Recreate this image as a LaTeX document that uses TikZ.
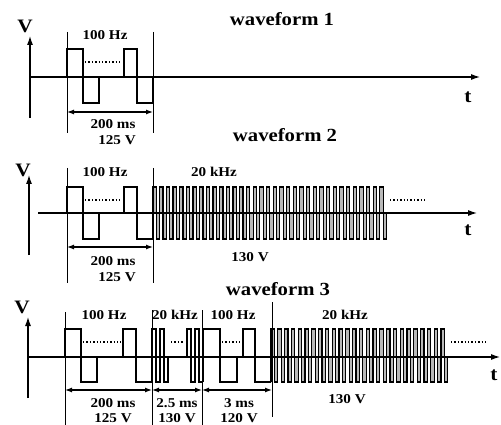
\documentclass[tikz,border=0pt]{standalone}
\usepackage{fontspec}
\setmainfont[FakeStretch=1.12]{Liberation Serif}
\usetikzlibrary{arrows.meta}

\begin{document}
\begin{tikzpicture}[x=1pt, y=-1pt, >=Latex, font=\bfseries,
    wave/.style={line width=1.7pt, line join=miter},
    burst/.style={line width=1.1pt, fill=gray!55},
    shortburst/.style={line width=1.3pt},
    axisline/.style={-{Latex[length=9pt, width=6pt]}, line width=1.1pt},
    tickline/.style={line width=0.8pt},
    dimarrow/.style={{Latex[length=7pt, width=5pt]}-{Latex[length=7pt, width=5pt]}, line width=1.2pt},
    dots/.style={dotted, line width=1.4pt},
    lbl/.style={font=\fontsize{13.5}{15}\bfseries\selectfont, anchor=base, inner sep=1pt},
    ttl/.style={font=\fontsize{18.5}{21}\bfseries\selectfont, anchor=base},
    axlbl/.style={font=\fontsize{19}{21}\bfseries\selectfont, anchor=base}]

  \useasboundingbox (0,0) rectangle (501,425);

  % ---------- waveform 1 ----------
  \begin{scope}[shift={(0,77)}]
    \node[ttl] (title1) at (282,-51) {waveform 1};
    \coordinate (o1) at (30,0);
    \coordinate (vtip1) at (30,-41);
    \coordinate (ttip1) at (480,0);
    \draw[axisline] (30,41) -- (vtip1);
    \draw[axisline] (o1) -- (ttip1);
    \node[axlbl] (v1) at (25,-44) {V};
    \node[axlbl] (t1) at (468,26) {t};

    \draw[wave] (67,0) -- (67,-28) -- (83,-28) -- (83,26) -- (99,26) -- (99,0);
    \draw[wave] (124,0) -- (124,-28) -- (137,-28) -- (137,26) -- (153,26) -- (153,0);
    \draw[dots] (85,-15) -- (122,-15);

    \draw[tickline] (67,-45) -- (67,56);
    \draw[tickline] (153,-45) -- (153,56);
    \coordinate (a1) at (67,35);
    \coordinate (b1) at (153,35);
    \draw[dimarrow] (a1) -- (b1);

    \node[lbl] (f1) at (105,-37) {100 Hz};
    \node[lbl] (d1) at (113,52) {200 ms};
    \node[lbl] (u1) at (117,68) {125 V};
  \end{scope}

  % ---------- waveform 2 ----------
  \begin{scope}[shift={(0,213)}]
    \node[ttl] (title2) at (285,-71) {waveform 2};
    \coordinate (o2) at (38,0);
    \coordinate (vtip2) at (29,-38);
    \coordinate (ttip2) at (477,0);
    \draw[axisline] (29,42) -- (vtip2);
    \draw[axisline] (o2) -- (ttip2);
    \node[axlbl] (v2) at (23,-36) {V};
    \node[axlbl] (t2) at (468,22) {t};

    \draw[wave] (67,0) -- (67,-26) -- (83,-26) -- (83,26) -- (99,26) -- (99,0);
    \draw[wave] (124,0) -- (124,-26) -- (137,-26) -- (137,26) -- (153,26);
    \draw[dots] (85,-13) -- (122,-13);

    % 20 kHz burst
    \filldraw[burst] (153,0) -- (153,26)
      \foreach \i in {1,...,35}{ -- ++(0,-52) -- ++(3.335,0) -- ++(0,52) -- ++(3.335,0)}
      -- ++(0,-26) -- cycle;
    \draw[dots] (390,-13) -- (427,-13);

    \draw[tickline] (67,-45) -- (67,70);
    \draw[tickline] (153,-45) -- (153,70);
    \coordinate (a2) at (67,34);
    \coordinate (b2) at (153,34);
    \draw[dimarrow] (a2) -- (b2);

    \node[lbl] (f2) at (105,-36) {100 Hz};
    \node[lbl] (g2) at (214,-36) {20 kHz};
    \node[lbl] (d2) at (113,52) {200 ms};
    \node[lbl] (u2) at (117,68) {125 V};
    \node[lbl] (w2) at (250,48) {130 V};
  \end{scope}

  % ---------- waveform 3 ----------
  \begin{scope}[shift={(0,357)}]
    \node[ttl] (title3) at (278,-62) {waveform 3};
    \coordinate (o3) at (28,0);
    \coordinate (vtip3) at (28,-40);
    \coordinate (ttip3) at (500,0);
    \draw[axisline] (28,41) -- (vtip3);
    \draw[axisline] (o3) -- (ttip3);
    \node[axlbl] (v3) at (22,-44) {V};
    \node[axlbl] (t3) at (494,23) {t};

    \draw[wave] (65,0) -- (65,-28) -- (81,-28) -- (81,25) -- (97,25) -- (97,0);
    \draw[wave] (123,0) -- (123,-28) -- (136,-28) -- (136,25) -- (152,25);
    \draw[dots] (83,-15) -- (121,-15);

    % short 20 kHz bursts
    \draw[shortburst] (152,25)
      \foreach \i in {1,2}{ -- ++(0,-53) -- ++(4,0) -- ++(0,53) -- ++(4,0)}
      -- ++(0,-25);
    \draw[dots] (171,-15) -- (184,-15);
    \draw[shortburst] (187,0) -- (187,-28) -- ++(4,0) -- ++(0,53) -- ++(4,0)
      -- ++(0,-53) -- ++(4,0) -- ++(0,53) -- ++(4,0);
    \draw[wave] (203,25) -- (203,-28) -- (220,-28) -- (220,25) -- (237,25) -- (237,0);
    \draw[wave] (243,0) -- (243,-28) -- (255,-28) -- (255,25) -- (271,25);
    \draw[dots] (222,-15) -- (241,-15);

    % long 20 kHz burst
    \filldraw[burst] (271,0) -- (271,25)
      \foreach \i in {1,...,26}{ -- ++(0,-53) -- ++(3.4,0) -- ++(0,53) -- ++(3.4,0)}
      -- ++(0,-25) -- cycle;
    \draw[dots] (451,-15) -- (488,-15);

    \draw[tickline] (65,-45) -- (65,68);
    \draw[tickline] (152,-47) -- (152,68);
    \draw[tickline] (202,-47) -- (202,68);
    \draw[tickline] (272,-55) -- (272,60);
    \coordinate (a3) at (65,33);
    \coordinate (b3) at (152,33);
    \coordinate (c3) at (202,33);
    \coordinate (e3) at (272,33);
    \draw[dimarrow] (a3) -- (b3);
    \draw[dimarrow] (b3) -- (c3);
    \draw[dimarrow] (c3) -- (e3);

    \node[lbl] (f3) at (104,-38) {100 Hz};
    \node[lbl] (g3) at (175,-38) {20 kHz};
    \node[lbl] (h3) at (233,-38) {100 Hz};
    \node[lbl] (k3) at (345,-38) {20 kHz};
    \node[lbl] (d3) at (113,50) {200 ms};
    \node[lbl] (u3) at (113,65) {125 V};
    \node[lbl] (d4) at (177,50) {2.5 ms};
    \node[lbl] (u4) at (177,65) {130 V};
    \node[lbl] (d5) at (239,50) {3 ms};
    \node[lbl] (u5) at (239,65) {120 V};
    \node[lbl] (w3) at (347,46) {130 V};
  \end{scope}

\end{tikzpicture}
\end{document}
